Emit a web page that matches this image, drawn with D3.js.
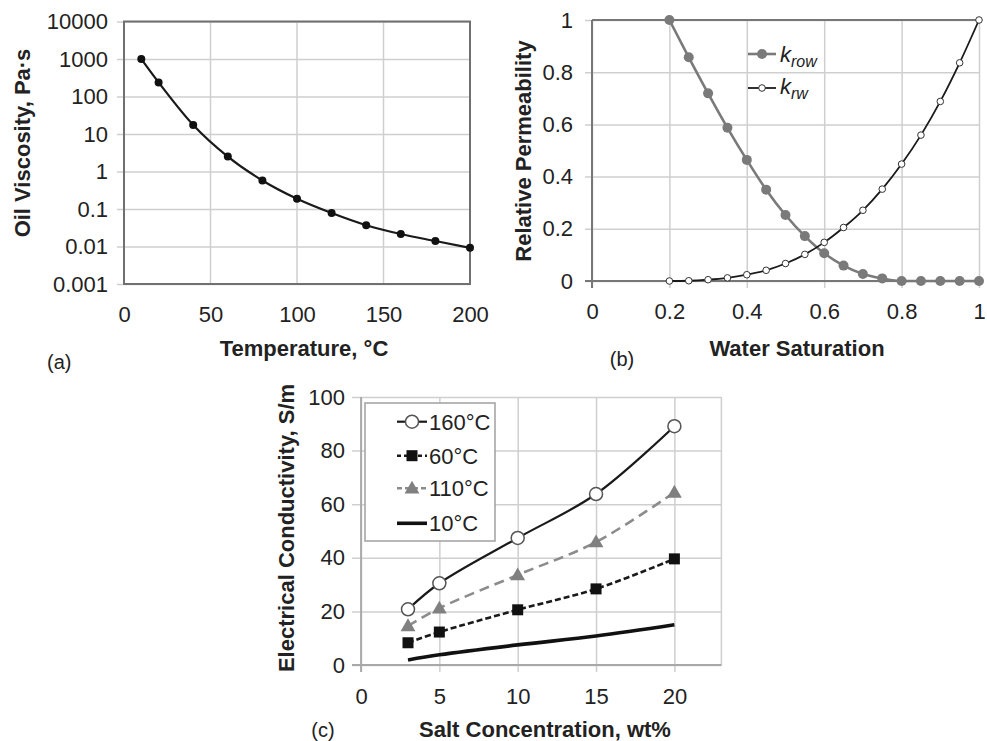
<!DOCTYPE html>
<html>
<head>
<meta charset="utf-8">
<script src="https://d3js.org/d3.v7.min.js"></script>
<style>
  body { margin: 0; background: white; }
  text { font-family: "Liberation Sans", Arial, sans-serif; fill: #222; }
  .tick text { font-size: 22px; }
  .title { font-size: 22px; font-weight: bold; }
</style>
</head>
<body>
<svg width="987" height="741"></svg>
<script>
// (a) oil viscosity vs temperature
const tempC = [10, 20, 40, 60, 80, 100, 120, 140, 160, 180, 200];
const viscosity = [1000, 238, 17.4, 2.5, 0.575, 0.187, 0.078, 0.037, 0.0215, 0.014, 0.0092];
const viscTicks = [0.001, 0.01, 0.1, 1, 10, 100, 1000, 10000];
const viscLabels = ["0.001", "0.01", "0.1", "1", "10", "100", "1000", "10000"];
const tempTicks = [0, 50, 100, 150, 200];

// (b) relative permeability vs water saturation
const waterSat = [0.2, 0.25, 0.3, 0.35, 0.4, 0.45, 0.5, 0.55, 0.6, 0.65, 0.7, 0.75, 0.8, 0.85, 0.9, 0.95, 1.0];
const kRow = [1.0, 0.857, 0.719, 0.587, 0.464, 0.35, 0.253, 0.172, 0.106, 0.059, 0.027, 0.01, 0, 0, 0, 0, 0];
const kRw = [0, 0.001, 0.005, 0.012, 0.024, 0.041, 0.067, 0.102, 0.148, 0.205, 0.271, 0.352, 0.448, 0.559, 0.688, 0.836, 1.0];
const satTicks = [0, 0.2, 0.4, 0.6, 0.8, 1];
const permTicks = [0, 0.2, 0.4, 0.6, 0.8, 1];

// (c) electrical conductivity vs salt concentration
const saltConc = [3, 5, 10, 15, 20];
const cond160 = [20.8, 30.5, 47.4, 63.8, 89.1];
const cond60 = [8.3, 12.3, 20.6, 28.4, 39.6];
const cond110 = [14.6, 21.2, 33.6, 45.9, 64.4];
const cond10 = [1.9, 3.8, 7.5, 10.8, 15.0];
const saltTicks = [0, 5, 10, 15, 20];
const condTicks = [0, 20, 40, 60, 80, 100];
const seriesNames = ["160°C", "60°C", "110°C", "10°C"];

const svg = d3.select("svg");
const grid = "#cfcfcf";

function zip(xs, ys) { return xs.map((x, i) => ({x: x, y: ys[i]})); }

// ---------- PANEL A ----------
var xA = d3.scaleLinear().domain([0, 200]).range([124, 470]);
var yA = d3.scaleLog().domain([0.001, 10000]).range([284, 21.5]);
var gA = svg.append("g");

gA.append("g").attr("transform", "translate(124,0)")
  .call(d3.axisLeft(yA).tickValues(viscTicks).tickFormat((d, i) => viscLabels[i]).tickSize(7).tickPadding(9))
  .call(g => g.select(".domain").remove())
  .call(g => g.selectAll("line").attr("stroke", grid).attr("stroke-width", 1.5).attr("x2", 346).attr("x1", -7));
gA.append("g").attr("transform", "translate(0,284)")
  .call(d3.axisBottom(xA).tickValues(tempTicks).tickSize(0).tickPadding(22))
  .call(g => g.select(".domain").remove());
// vertical grid
gA.append("g").selectAll("line").data(tempTicks).enter().append("line")
  .attr("x1", d => xA(d)).attr("x2", d => xA(d))
  .attr("y1", 21.5).attr("y2", 284)
  .attr("stroke", grid).attr("stroke-width", 1.5);
gA.append("rect").attr("x", 124).attr("y", 21.5).attr("width", 346).attr("height", 262.5)
  .attr("fill", "none").attr("stroke", "#707070").attr("stroke-width", 2);

gA.append("path").datum(zip(tempC, viscosity))
  .attr("fill", "none").attr("stroke", "#1a1a1a").attr("stroke-width", 2.2)
  .attr("d", d3.line().x(d => xA(d.x)).y(d => yA(d.y)).curve(d3.curveMonotoneX));
gA.selectAll(".dot").data(zip(tempC, viscosity)).enter().append("circle")
  .attr("cx", d => xA(d.x)).attr("cy", d => yA(d.y)).attr("r", 4)
  .attr("fill", "#111");

gA.append("text").attr("class", "title").attr("text-anchor", "middle")
  .attr("transform", "translate(30,143) rotate(-90)").text("Oil Viscosity, Pa·s");
gA.append("text").attr("class", "title").attr("text-anchor", "middle")
  .attr("x", 304).attr("y", 356).text("Temperature, °C");
gA.append("text").attr("x", 47).attr("y", 369).style("font-size", "20px").text("(a)");

// ---------- PANEL B ----------
var xB = d3.scaleLinear().domain([0, 1]).range([592, 979]);
var yB = d3.scaleLinear().domain([0, 1]).range([281, 20]);
var gB = svg.append("g");

gB.append("g").attr("transform", "translate(592,0)")
  .call(d3.axisLeft(yB).tickValues(permTicks).tickFormat(d3.format("~g")).tickSize(7).tickPadding(12))
  .call(g => g.select(".domain").remove())
  .call(g => g.selectAll("line").attr("stroke", grid).attr("stroke-width", 1.5).attr("x1", -7).attr("x2", 387));
gB.append("g").attr("transform", "translate(0,281)")
  .call(d3.axisBottom(xB).tickValues(satTicks).tickFormat(d3.format("~g")).tickSize(7).tickPadding(15))
  .call(g => g.select(".domain").remove())
  .call(g => g.selectAll("line").attr("stroke", grid).attr("stroke-width", 1.5).attr("y1", -261).attr("y2", 7));
gB.append("line").attr("x1", 592).attr("x2", 979).attr("y1", 20).attr("y2", 20).attr("stroke", "#777").attr("stroke-width", 2);
gB.append("line").attr("x1", 592).attr("x2", 592).attr("y1", 20).attr("y2", 288).attr("stroke", "#777").attr("stroke-width", 2);
gB.append("line").attr("x1", 585).attr("x2", 979).attr("y1", 281).attr("y2", 281).attr("stroke", "#777").attr("stroke-width", 2);

var lineB = d3.line().x(d => xB(d.x)).y(d => yB(d.y)).curve(d3.curveMonotoneX);
gB.append("path").datum(zip(waterSat, kRow))
  .attr("fill", "none").attr("stroke", "#7a7a7a").attr("stroke-width", 2.6).attr("d", lineB);
gB.selectAll(".row").data(zip(waterSat, kRow)).enter().append("circle")
  .attr("cx", d => xB(d.x)).attr("cy", d => yB(d.y)).attr("r", 5).attr("fill", "#7a7a7a");
gB.append("path").datum(zip(waterSat, kRw))
  .attr("fill", "none").attr("stroke", "#1a1a1a").attr("stroke-width", 1.8).attr("d", lineB);
gB.selectAll(".rw").data(zip(waterSat, kRw)).enter().append("circle")
  .attr("cx", d => xB(d.x)).attr("cy", d => yB(d.y)).attr("r", 3.3)
  .attr("fill", "white").attr("stroke", "#333").attr("stroke-width", 1);

// legend b
var legB = gB.append("g");
legB.append("line").attr("x1", 748).attr("x2", 776).attr("y1", 54).attr("y2", 54).attr("stroke", "#7a7a7a").attr("stroke-width", 2.6);
legB.append("circle").attr("cx", 762).attr("cy", 54).attr("r", 5).attr("fill", "#7a7a7a");
legB.append("line").attr("x1", 748).attr("x2", 776).attr("y1", 88).attr("y2", 88).attr("stroke", "#1a1a1a").attr("stroke-width", 1.8);
legB.append("circle").attr("cx", 762).attr("cy", 88).attr("r", 3.3).attr("fill", "white").attr("stroke", "#333");
var t1 = legB.append("text").attr("x", 780).attr("y", 62).style("font-style", "italic").style("font-size", "22px");
t1.append("tspan").text("k");
t1.append("tspan").attr("dy", 5).style("font-size", "16px").text("row");
var t2 = legB.append("text").attr("x", 780).attr("y", 94).style("font-style", "italic").style("font-size", "22px");
t2.append("tspan").text("k");
t2.append("tspan").attr("dy", 5).style("font-size", "16px").text("rw");

gB.append("text").attr("class", "title").attr("text-anchor", "middle")
  .attr("transform", "translate(531,151) rotate(-90)").text("Relative Permeability");
gB.append("text").attr("class", "title").attr("text-anchor", "middle")
  .attr("x", 797).attr("y", 356).text("Water Saturation");
gB.append("text").attr("x", 622).attr("y", 366).attr("text-anchor", "middle").style("font-size", "20px").text("(b)");

// ---------- PANEL C ----------
var xC = d3.scaleLinear().domain([0, 23]).range([361, 721.4]);
var yC = d3.scaleLinear().domain([0, 100]).range([665, 397]);
var gC = svg.append("g");

gC.append("g").attr("transform", "translate(361,0)")
  .call(d3.axisLeft(yC).tickValues(condTicks).tickSize(9).tickPadding(7))
  .call(g => g.select(".domain").remove())
  .call(g => g.selectAll("line").attr("stroke", grid).attr("stroke-width", 1.5).attr("x1", -9).attr("x2", 360.4));
gC.append("g").attr("transform", "translate(0,665)")
  .call(d3.axisBottom(xC).tickValues(saltTicks).tickSize(7).tickPadding(16))
  .call(g => g.select(".domain").remove())
  .call(g => g.selectAll("line").attr("stroke", grid).attr("stroke-width", 1.5).attr("y1", -268).attr("y2", 7));
gC.append("line").attr("x1", 721.4).attr("x2", 721.4).attr("y1", 397).attr("y2", 665).attr("stroke", grid).attr("stroke-width", 1.5);
gC.append("line").attr("x1", 352).attr("x2", 721.4).attr("y1", 665).attr("y2", 665).attr("stroke", "#a8a8a8").attr("stroke-width", 1.8);
gC.append("line").attr("x1", 361).attr("x2", 361).attr("y1", 397).attr("y2", 672).attr("stroke", "#a8a8a8").attr("stroke-width", 1.8);

var lineC = d3.line().x(d => xC(d.x)).y(d => yC(d.y)).curve(d3.curveCatmullRom.alpha(0.5));
var styles = [
  {data: cond160, stroke: "#1a1a1a", width: 2.2, dash: null, marker: "circle"},
  {data: cond60, stroke: "#1a1a1a", width: 2.6, dash: "6,3", marker: "square"},
  {data: cond110, stroke: "#8c8c8c", width: 2.6, dash: "10,6", marker: "triangle"},
  {data: cond10, stroke: "#111", width: 3.6, dash: null, marker: null}
];

function drawMarker(g, type, x, y) {
  if (type === "circle") {
    g.append("circle").attr("cx", x).attr("cy", y).attr("r", 6.5)
      .attr("fill", "white").attr("stroke", "#555").attr("stroke-width", 1.5);
  } else if (type === "square") {
    g.append("rect").attr("x", x - 5.5).attr("y", y - 5.5).attr("width", 11).attr("height", 11).attr("fill", "#111");
  } else if (type === "triangle") {
    g.append("path").attr("d", d3.symbol(d3.symbolTriangle, 95)()).attr("transform", `translate(${x},${y + 1})`).attr("fill", "#808080");
  }
}

styles.forEach(s => {
  var pts = zip(saltConc, s.data);
  var p = gC.append("path").datum(pts).attr("fill", "none")
    .attr("stroke", s.stroke).attr("stroke-width", s.width).attr("d", lineC);
  if (s.dash) p.attr("stroke-dasharray", s.dash);
  if (s.marker) pts.forEach(d => drawMarker(gC, s.marker, xC(d.x), yC(d.y)));
});

// legend c
var legC = gC.append("g");
legC.append("rect").attr("x", 365).attr("y", 403).attr("width", 130).attr("height", 138)
  .attr("fill", "white").attr("stroke", "#a0a0a0").attr("stroke-width", 1.5);
var rowY = [421.7, 455.7, 488.3, 523.3];
styles.forEach((s, i) => {
  var l = legC.append("line").attr("x1", 397).attr("x2", 427).attr("y1", rowY[i]).attr("y2", rowY[i])
    .attr("stroke", s.stroke).attr("stroke-width", s.width);
  if (s.dash) l.attr("stroke-dasharray", s.dash === "6,3" ? "4,3" : "5,3");
  if (s.marker) drawMarker(legC, s.marker, 412, rowY[i]);
  legC.append("text").attr("x", 429).attr("y", rowY[i] + 8).style("font-size", "22px").text(seriesNames[i]);
});

gC.append("text").attr("class", "title").attr("text-anchor", "middle")
  .attr("transform", "translate(294,528) rotate(-90)").text("Electrical Conductivity, S/m");
gC.append("text").attr("class", "title").attr("text-anchor", "middle")
  .attr("x", 545).attr("y", 737).text("Salt Concentration, wt%");
gC.append("text").attr("x", 323).attr("y", 737).attr("text-anchor", "middle").style("font-size", "20px").text("(c)");
</script>
</body>
</html>
